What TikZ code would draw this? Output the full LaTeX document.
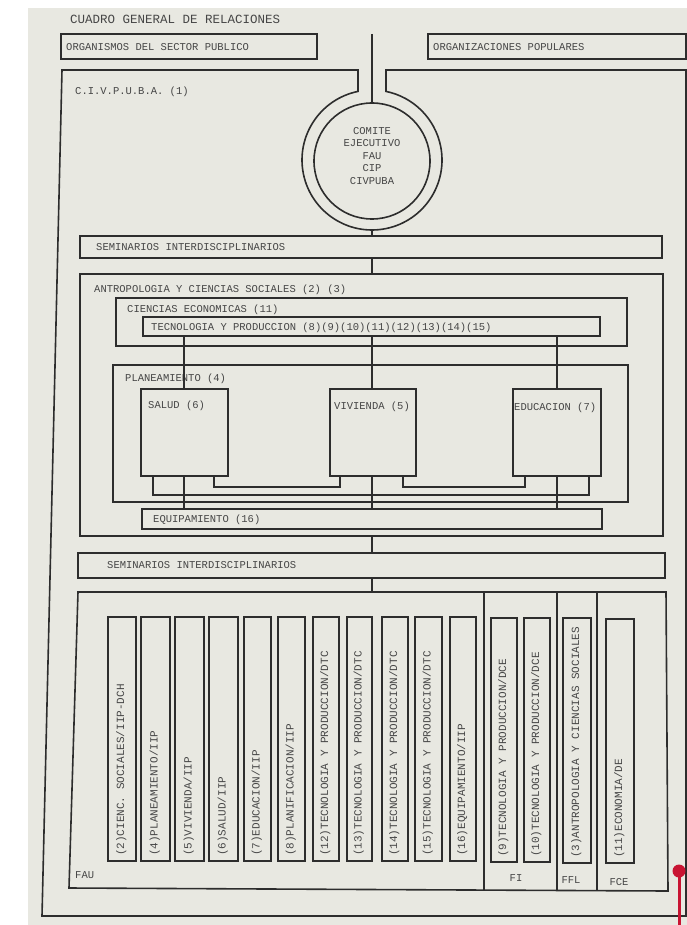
\documentclass[tikz,border=0pt]{standalone}
\usepackage{fontspec}
\newfontfamily\tw{Liberation Mono}
\usetikzlibrary{fit,calc}
\definecolor{paper}{RGB}{232,232,225}
\definecolor{ink}{RGB}{70,70,70}
\definecolor{ln}{RGB}{45,45,45}
\definecolor{redpin}{RGB}{200,20,50}
\begin{document}
\begin{tikzpicture}[x=1pt,y=-1pt,
  frame/.style={draw=ln,line width=1.6pt,inner sep=0pt,rectangle},
  conn/.style={draw=ln,line width=1.6pt},
  txt/.style={font=\tw\fontsize{10.5}{12.5}\selectfont,text=ink,inner sep=0pt,anchor=base west},
  big/.style={font=\tw\fontsize{12.5}{14}\selectfont,text=ink,inner sep=0pt,anchor=base west},
  vtxt/.style={font=\tw\fontsize{11}{13}\selectfont,text=ink,inner sep=0pt,anchor=mid west,rotate=90},
  ctxt/.style={font=\tw\fontsize{10.5}{12.5}\selectfont,text=ink,inner sep=0pt,anchor=base}]
\useasboundingbox (0,0) rectangle (687,925);
\fill[white] (0,0) rectangle (687,925);
\fill[paper] (28,8) rectangle (687,925);

% title and top boxes
\node[big] (title) at (70,24) {CUADRO GENERAL DE RELACIONES};
\node[frame, fit={(61,34) (317,59)}] (orgpub) {};
\node[frame, fit={(428,34) (686,59)}] (orgpop) {};
\node[txt] (orgpubt) at (66,50.5) {ORGANISMOS DEL SECTOR PUBLICO};
\node[txt] (orgpopt) at (433,50.5) {ORGANIZACIONES POPULARES};

% CIVPUBA frame with ring
\draw[conn] (386,70) -- (686,70) -- (686,916) -- (42,916) -- (62,70) -- (358,70)
  -- (358,91.41) arc[start angle=101.54,end angle=438.46,radius=70pt] -- cycle;
\node[txt] (civ) at (75,95) {C.I.V.P.U.B.A. (1)};
\coordinate (top) at (372,34);
\coordinate (ringbot) at (372,230);
\node[circle,draw=ln,line width=1.6pt,minimum size=116pt,inner sep=0pt] (comite) at (372,161) {};
\node[txt,anchor=center,align=center] (comitet) at (372,156) {COMITE\\EJECUTIVO\\FAU\\CIP\\CIVPUBA};
\draw[conn] (top) -- (comite.north);

% middle boxes
\node[frame, fit={(80,236) (662,258)}] (sem1) {};
\node[frame, fit={(80,274) (663,536)}] (antro) {};
\node[frame, fit={(116,298) (627,346)}] (cecon) {};
\node[frame, fit={(143,317) (600,336)}] (tecno) {};
\node[frame, fit={(113,365) (628,502)}] (plan) {};
\node[frame, fit={(141,389) (228,476)}] (salud) {};
\node[frame, fit={(330,389) (416,476)}] (viv) {};
\node[frame, fit={(513,389) (601,476)}] (edu) {};
\node[frame, fit={(142,509) (602,529)}] (equip) {};
\node[frame, fit={(78,553) (665,578)}] (sem2) {};

\node[txt] (sem1t) at (96,250.5) {SEMINARIOS INTERDISCIPLINARIOS};
\node[txt] (antrot) at (94,292) {ANTROPOLOGIA Y CIENCIAS SOCIALES (2) (3)};
\node[txt] (cecont) at (127,312) {CIENCIAS ECONOMICAS (11)};
\node[txt] (tecnot) at (151,330.5) {TECNOLOGIA Y PRODUCCION (8)(9)(10)(11)(12)(13)(14)(15)};
\node[txt] (plant) at (125,381) {PLANEAMIENTO (4)};
\node[txt] (saludt) at (148,408) {SALUD (6)};
\node[txt] (vivt) at (334,409) {VIVIENDA (5)};
\node[txt] (edut) at (514,410) {EDUCACION (7)};
\node[txt] (equipt) at (153,522) {EQUIPAMIENTO (16)};
\node[txt] (sem2t) at (107,568) {SEMINARIOS INTERDISCIPLINARIOS};

% connectors
\draw[conn] (ringbot) -- (ringbot |- sem1.north);
\draw[conn] (sem1.south -| 372,0) -- (antro.north -| 372,0);
\draw[conn] (tecno.south -| 184,0) -- (salud.north -| 184,0);
\draw[conn] (tecno.south -| 372,0) -- (viv.north -| 372,0);
\draw[conn] (tecno.south -| 557,0) -- (edu.north -| 557,0);
\draw[conn] (salud.south -| 153,0) -- ++(0,18) -| (edu.south -| 589,0);
\draw[conn] (salud.south -| 214,0) -- ++(0,10) -| (viv.south -| 340,0);
\draw[conn] (viv.south -| 403,0) -- ++(0,10) -| (edu.south -| 525,0);
\draw[conn] (salud.south -| 184,0) -- (equip.north -| 184,0);
\draw[conn] (viv.south -| 372,0) -- (equip.north -| 372,0);
\draw[conn] (edu.south -| 557,0) -- (equip.north -| 557,0);
\draw[conn] (antro.south -| 372,0) -- (sem2.north -| 372,0);
\coordinate (fau) at (372,592);
\draw[conn] (sem2.south -| fau) -- (fau);

% bottom frame
\draw[conn] (78,592) -- (666,592) -- (668,891) -- (69,888) -- cycle;
\draw[conn] (484,592) -- (484,890);
\draw[conn] (557,592) -- (557,890);
\draw[conn] (597,592) -- (597,891);
\node[txt] (faut) at (75,878) {FAU};
\node[ctxt] (fit) at (516,881) {FI};
\node[ctxt] (fflt) at (571,883) {FFL};
\node[ctxt] (fcet) at (619,885) {FCE};

% vertical boxes
\node[frame, fit={(108,617) (136,861)}] (v1) {};
\node[frame, fit={(141,617) (170,861)}] (v2) {};
\node[frame, fit={(175,617) (204,861)}] (v3) {};
\node[frame, fit={(209,617) (238,861)}] (v4) {};
\node[frame, fit={(244,617) (271,861)}] (v5) {};
\node[frame, fit={(278,617) (305,861)}] (v6) {};
\node[frame, fit={(313,617) (339,861)}] (v7) {};
\node[frame, fit={(347,617) (372,861)}] (v8) {};
\node[frame, fit={(382,617) (408,861)}] (v9) {};
\node[frame, fit={(415,617) (442,861)}] (v10) {};
\node[frame, fit={(450,617) (476,861)}] (v11) {};
\node[frame, fit={(491,618) (517,862)}] (v12) {};
\node[frame, fit={(524,618) (550,862)}] (v13) {};
\node[frame, fit={(563,618) (591,863)}] (v14) {};
\node[frame, fit={(606,619) (634,863)}] (v15) {};

\node[vtxt] (v1t) at (122,856) {(2)CIENC. SOCIALES/IIP-DCH};
\node[vtxt] (v2t) at (155.5,856) {(4)PLANEAMIENTO/IIP};
\node[vtxt] (v3t) at (189.5,856) {(5)VIVIENDA/IIP};
\node[vtxt] (v4t) at (223.5,856) {(6)SALUD/IIP};
\node[vtxt] (v5t) at (257.5,856) {(7)EDUCACION/IIP};
\node[vtxt] (v6t) at (291.5,856) {(8)PLANIFICACION/IIP};
\node[vtxt] (v7t) at (326,856) {(12)TECNOLOGIA Y PRODUCCION/DTC};
\node[vtxt] (v8t) at (359.5,856) {(13)TECNOLOGIA Y PRODUCCION/DTC};
\node[vtxt] (v9t) at (395,856) {(14)TECNOLOGIA Y PRODUCCION/DTC};
\node[vtxt] (v10t) at (428.5,856) {(15)TECNOLOGIA Y PRODUCCION/DTC};
\node[vtxt] (v11t) at (463,856) {(16)EQUIPAMIENTO/IIP};
\node[vtxt] (v12t) at (504,857) {(9)TECNOLOGIA Y PRODUCCION/DCE};
\node[vtxt] (v13t) at (537,857) {(10)TECNOLOGIA Y PRODUCCION/DCE};
\node[vtxt] (v14t) at (577,858) {(3)ANTROPOLOGIA Y CIENCIAS SOCIALES};
\node[vtxt] (v15t) at (620,858) {(11)ECONOMIA/DE};

% red pin
\draw[draw=redpin,line width=3pt] (679,871) -- (679,925);
\fill[fill=redpin] (679,871) circle[radius=6.5pt];
\end{tikzpicture}
\end{document}
